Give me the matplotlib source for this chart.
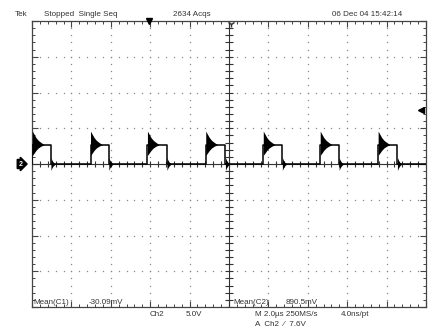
"""Tek scope capture: Ch2 pulse train with ringing"""
import matplotlib
matplotlib.use('Agg')
import matplotlib.pyplot as plt
import numpy as np

plt.rcParams['font.family'] = ['Liberation Sans', 'DejaVu Sans']

W, H = 428, 330

# --- data (time in us, level in V) ---
rise_us = [0.02, 2.97, 5.86, 8.82, 11.74, 14.63, 17.57]
fall_us = [0.96, 3.90, 6.85, 9.82, 12.71, 15.59, 18.55]
high_v = 2.7
low_v = 0.0

# ringing envelope after each rising edge
ring_dt = [0.0, 0.08, 0.18, 0.30, 0.44, 0.60]
ring_up = [1.9, 1.5, 1.0, 0.6, 0.3, 0.0]
ring_dn = [1.5, 1.2, 0.8, 0.45, 0.2, 0.0]

# smaller ringing after each falling edge
fring_dt = [0.0, 0.05, 0.12, 0.22]
fring_amp = [0.9, 0.55, 0.25, 0.0]

trig_pos_us = 5.92
trig_level_v = 7.6

fig = plt.figure(figsize=(W / 100, H / 100), dpi=100)
ax = fig.add_axes([32 / W, 1 - 307 / H, (426 - 32) / W, (307 - 21) / H])
ax.set_xlim(0, 20)
ax.set_ylim(-20, 20)

# graticule border + ticks
for s in ax.spines.values():
    s.set_color('#444')
    s.set_linewidth(0.9)
ax.set_xticks(np.arange(0, 20.01, 2))
ax.set_xticks(np.arange(0, 20.01, 0.4), minor=True)
ax.set_yticks(np.arange(-20, 20.01, 5))
ax.set_yticks(np.arange(-20, 20.01, 1), minor=True)
ax.tick_params(which='both', direction='in', top=True, right=True,
               labelbottom=False, labelleft=False, color='#444')
ax.tick_params(which='major', length=4, width=0.8)
ax.tick_params(which='minor', length=2.2, width=0.7)

# dotted grid
ydots = np.arange(-20, 20.01, 1)
xdots = np.arange(0, 20.01, 0.4)
for xv in range(2, 20, 2):
    if xv != 10:
        ax.plot([xv] * len(ydots), ydots, ls='none', marker='s', ms=0.9,
                mec='none', color='#8a8a8a')
for yv in range(-15, 20, 5):
    if yv != 0:
        ax.plot(xdots, [yv] * len(xdots), ls='none', marker='s', ms=0.9,
                mec='none', color='#8a8a8a')

# centre cross with ticks
ax.axhline(0, color='#333', lw=0.8, zorder=2)
ax.axvline(10, color='#333', lw=0.8, zorder=2)
ax.plot(xdots, [0] * len(xdots), ls='none', marker='|', ms=5, mew=0.8,
        color='#333', zorder=2)
ax.plot([10] * len(ydots), ydots, ls='none', marker='_', ms=6, mew=0.8,
        color='#333', zorder=2)

# trace
xs, ys = [0], [low_v]
for r, f in zip(rise_us, fall_us):
    xs += [r, r, f, f]
    ys += [low_v, high_v, high_v, low_v]
xs.append(20)
ys.append(low_v)
ax.plot(xs, ys, color='black', lw=1.1, zorder=4)

rd = np.array(ring_dt)
for r in rise_us:
    ax.fill_between(r + rd, high_v + np.array(ring_up),
                    high_v - np.array(ring_dn), color='black', lw=0, zorder=4)
fd = np.array(fring_dt)
for f in fall_us:
    ax.fill_between(f + fd, low_v + np.array(fring_amp),
                    low_v - np.array(fring_amp), color='black', lw=0, zorder=4)

# markers
ax.plot([trig_pos_us], [20], marker='v', ms=4.5, color='black',
        clip_on=False, zorder=6)
ax.plot([10.1], [19.6], marker='1', ms=5, color='#333', clip_on=False, zorder=6)
ax.plot([19.75], [trig_level_v], marker='<', ms=4, color='black',
        clip_on=False, zorder=6)
ax.annotate('2', xy=(0, 0), xycoords='data', xytext=(-7, 0),
            textcoords='offset points', ha='right', va='center',
            fontsize=5, color='white', fontweight='bold',
            bbox=dict(boxstyle='rarrow,pad=0.15', fc='black', ec='black'),
            annotation_clip=False)

# screen text
def ftext(x, y, s, **kw):
    fig.text(x / W, 1 - y / H, s, fontsize=5.8, color='#333',
             va='center', ha='left', **kw)

ftext(15, 15, 'Tek')
ftext(44, 15, 'Stopped  Single Seq')
ftext(173, 15, '2634 Acqs')
ftext(332, 15, '06 Dec 04 15:42:14')

ftext(33, 303, 'Mean(C1)')
ftext(89, 303, '-30.09mV')
ftext(233, 303, 'Mean(C2)')
ftext(286, 303, '890.5mV')

ftext(150, 314, 'Ch2')
ftext(186, 314, '5.0V')
ftext(255, 314, 'M 2.0µs 250MS/s')
ftext(341, 314, '4.0ns/pt')
ftext(255, 324, 'A  Ch2  ⁄  7.6V')

fig.savefig('out.png', dpi=100)
